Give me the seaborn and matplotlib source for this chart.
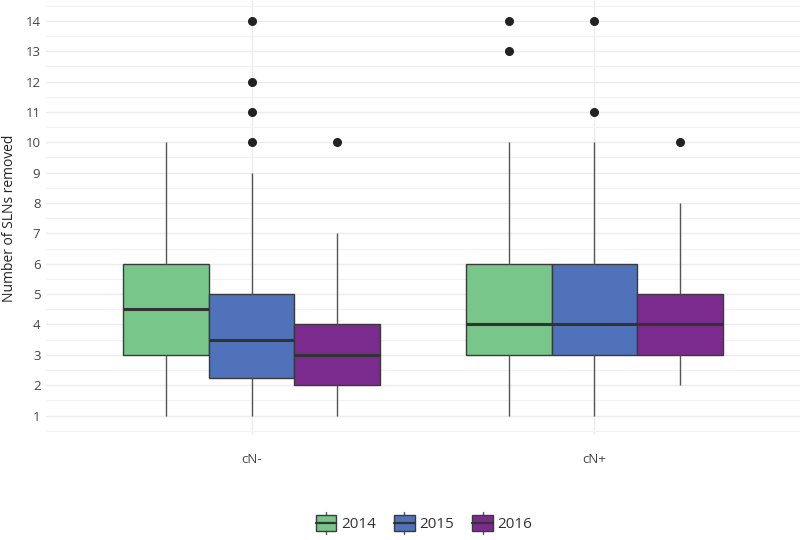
import numpy as np
import pandas as pd
import matplotlib
matplotlib.use("Agg")
import matplotlib.pyplot as plt
import seaborn as sns
from matplotlib.patches import Patch, Rectangle
from matplotlib.lines import Line2D
from matplotlib.legend_handler import HandlerBase

# ---- data ----
groups = ["cN-", "cN+"]
years = ["2014", "2015", "2016"]
cn_neg_2014 = [1, 3, 3, 4, 5, 6, 6, 10]
cn_neg_2015 = [1, 1, 1, 2, 2, 2, 3, 3, 3, 3, 3, 4, 4, 4, 5, 5, 5, 9, 10, 11, 12, 14]
cn_neg_2016 = [1, 2, 2, 3, 3, 4, 4, 7, 10]
cn_pos_2014 = [1, 2, 3, 3, 4, 4, 4, 5, 6, 6, 10, 13, 14]
cn_pos_2015 = [1, 2, 3, 3, 4, 4, 4, 5, 6, 6, 10, 11, 14]
cn_pos_2016 = [2, 3, 3, 4, 4, 5, 5, 8, 10]
colors = ["#78C68A", "#5072BA", "#7B2A8E"]
y_ticks = list(range(1, 15))
y_label = "Number of SLNs removed"

series = {
    ("cN-", "2014"): cn_neg_2014, ("cN-", "2015"): cn_neg_2015, ("cN-", "2016"): cn_neg_2016,
    ("cN+", "2014"): cn_pos_2014, ("cN+", "2015"): cn_pos_2015, ("cN+", "2016"): cn_pos_2016,
}
rows = []
for (g, yr), vals in series.items():
    for v in vals:
        rows.append({"group": g, "year": yr, "value": v})
df = pd.DataFrame(rows)

sns.set_theme(style="white")
plt.rcParams["font.family"] = ["Open Sans", "DejaVu Sans"]

fig = plt.figure(figsize=(8, 5.4), dpi=100)
ax = fig.add_axes([0.0575, 0.194, 0.9425, 0.804])

sns.boxplot(data=df, x="group", y="value", hue="year", order=groups, hue_order=years,
            palette=colors, width=0.75, gap=0, linecolor="#3a3a3a", linewidth=1.0,
            whis=1.5, showcaps=False, saturation=1, legend=False,
            medianprops=dict(linewidth=2.2, color="#333333"),
            whiskerprops=dict(color="#555555", linewidth=1.0),
            flierprops=dict(marker="o", markersize=5.5, markerfacecolor="#222222",
                            markeredgecolor="#222222"),
            ax=ax)

ax.set_xlim(-0.6, 1.6)
ax.set_ylim(0.35, 14.65)
ax.set_yticks(y_ticks)
ax.set_yticks(np.arange(0.5, 15, 1), minor=True)
ax.grid(which="major", axis="both", color="#EBEBEB", linewidth=1.0)
ax.grid(which="minor", axis="y", color="#F2F2F2", linewidth=0.8)
ax.set_axisbelow(True)
for s in ax.spines.values():
    s.set_visible(False)
ax.tick_params(axis="both", which="both", length=0, labelsize=9.5, labelcolor="#444444")
ax.tick_params(axis="x", pad=13)
ax.tick_params(axis="y", pad=4)
ax.set_xlabel("")
ax.set_ylabel(y_label, fontsize=10, color="#222222", labelpad=6)


class BoxHandler(HandlerBase):
    def create_artists(self, legend, orig_handle, xdescent, ydescent, width, height,
                       fontsize, trans):
        x0, y0 = -xdescent, -ydescent
        fc = orig_handle.get_facecolor()
        cx = x0 + width / 2
        whisk = Line2D([cx, cx], [y0 - height * 0.25, y0 + height * 1.25],
                       color="#555555", lw=1.0, transform=trans)
        rect = Rectangle((x0, y0), width, height, facecolor=fc, edgecolor="#3a3a3a",
                         lw=1.0, transform=trans)
        med = Line2D([x0, x0 + width], [y0 + height / 2] * 2, color="#333333",
                     lw=1.6, transform=trans)
        return [whisk, rect, med]


handles = [Patch(facecolor=c, label=y) for c, y in zip(colors, years)]
fig.legend(handles=handles, labels=years, handler_map={Patch: BoxHandler()},
           loc="center", bbox_to_anchor=(0.53, 0.03), ncol=3, frameon=False,
           fontsize=11, handlelength=1.35, handleheight=1.15, handletextpad=0.3,
           columnspacing=1.2, labelcolor="#333333")

fig.savefig("out.png", dpi=100, facecolor="white")
